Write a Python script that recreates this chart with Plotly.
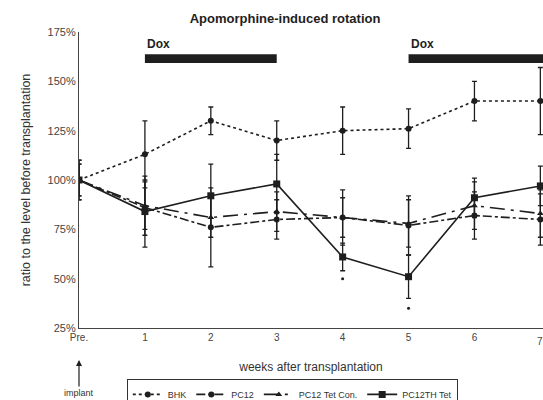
import plotly.graph_objects as go

weeks = [0, 1, 2, 3, 4, 5, 6, 7]
week_labels = ["Pre.", "1", "2", "3", "4", "5", "6", "7"]

bhk = [100, 113, 130, 120, 125, 126, 140, 140]
bhk_err = [10, 17, 7, 10, 12, 10, 10, 17]
pc12 = [100, 86, 76, 80, 81, 77, 82, 80]
pc12_err = [10, 14, 20, 10, 14, 15, 12, 13]
tetcon = [100, 87, 81, 84, 81, 78, 87, 83]
tetcon_err = [8, 12, 10, 10, 10, 12, 12, 12]
th = [100, 84, 92, 98, 61, 51, 91, 97]
th_err = [8, 18, 16, 15, 7, 11, 10, 10]

sig_x = [4, 5]
sig_y = [50, 35]

dox_start = [1, 5]
dox_end = [3, 7.2]

C = "#1e1e1e"

fig = go.Figure()

def add(name, y, err, dash, symbol, size):
    fig.add_trace(go.Scatter(
        x=weeks, y=y, name=name, mode="lines+markers",
        line=dict(color=C, width=1.6, dash=dash),
        marker=dict(color=C, symbol=symbol, size=size),
        error_y=dict(type="data", array=err, visible=True, color=C, thickness=1.3, width=2.5),
    ))

add("BHK", bhk, bhk_err, "dot", "circle", 6)
add("PC12", pc12, pc12_err, "dashdot", "circle", 6)
add("PC12 Tet Con.", tetcon, tetcon_err, "longdashdot", "triangle-up", 6)
add("PC12TH Tet", th, th_err, "solid", "square", 7)

fig.add_trace(go.Scatter(x=sig_x, y=sig_y, mode="markers", showlegend=False,
                         marker=dict(color=C, size=3, symbol="circle")))

for s, e in zip(dox_start, dox_end):
    fig.add_shape(type="rect", xref="x", yref="paper", x0=s, x1=e, y0=0.895, y1=0.925,
                  fillcolor=C, line=dict(width=0))
    fig.add_annotation(x=s, xref="x", y=0.93, yref="paper", text="<b>Dox</b>", showarrow=False,
                       xanchor="left", yanchor="bottom", font=dict(size=12, color=C))

# last tick label, partially cut at the right edge as in the reference
fig.add_annotation(x=weeks[-1], xref="x", y=-0.02, yref="paper", text=week_labels[-1],
                   showarrow=False, yanchor="top", xanchor="center",
                   font=dict(size=10, color="#444"))

fig.add_annotation(x=0, xref="x", y=-0.108, yref="paper", text="implant", showarrow=True,
                   ax=0, ay=33, arrowhead=2, arrowsize=1, arrowwidth=1.2, arrowcolor=C,
                   font=dict(size=9, color="#333"))

fig.update_layout(
    width=543, height=400,
    margin=dict(l=79, r=0, t=32, b=72, autoexpand=False),
    paper_bgcolor="white", plot_bgcolor="white",
    font=dict(family="Liberation Sans, Arial, sans-serif", color="#333"),
    title=dict(text="<b>Apomorphine-induced rotation</b>", x=0.525, xanchor="center",
               y=0.955, yanchor="middle", font=dict(size=13, color=C)),
    showlegend=True,
    legend=dict(orientation="h", x=0.103, y=-0.172, xanchor="left", yanchor="top",
                bordercolor="#333", borderwidth=1, font=dict(size=9, color="#333"),
                itemwidth=30, tracegroupgap=0),
    xaxis=dict(range=[0, 7.04], tickmode="array", tickvals=weeks, ticktext=week_labels,
               showgrid=False, zeroline=False, showline=True, linecolor="#444", linewidth=1.2,
               ticks="", tickfont=dict(size=10, color="#444"), automargin=False,
               title=dict(text="weeks after transplantation", font=dict(size=12, color="#333"),
                          standoff=20)),
    yaxis=dict(range=[25, 175], tickvals=[25, 50, 75, 100, 125, 150, 175],
               ticktext=["25%", "50%", "75%", "100%", "125%", "150%", "175%"],
               showgrid=False, zeroline=False, showline=True, linecolor="#444", linewidth=1.2,
               ticks="", tickfont=dict(size=11, color="#444"), automargin=False,
               title=dict(text="ratio to the level before transplantation",
                          font=dict(size=12.5, color="#333"), standoff=14)),
)

fig.write_html("out.html")
